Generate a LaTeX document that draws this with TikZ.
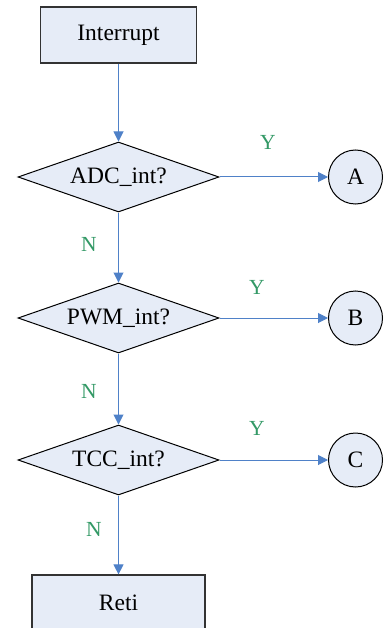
\documentclass[tikz,border=0pt]{standalone}
\usepackage{fontspec}
\setmainfont{Liberation Serif}
\usetikzlibrary{shapes.geometric,arrows.meta}
\definecolor{boxfill}{RGB}{230,236,247}
\definecolor{flowblue}{RGB}{79,129,200}
\definecolor{labelgreen}{RGB}{51,153,102}
\tikzset{
  procbox/.style={draw=black!80, line width=1.2pt, fill=boxfill, inner sep=0pt,
    font=\fontsize{23.5}{26}\selectfont},
  decision/.style={diamond, draw=black, line width=1pt, fill=boxfill, inner sep=0pt,
    aspect=2.87, minimum width=201pt, minimum height=70pt,
    font=\fontsize{23.5}{26}\selectfont},
  connector/.style={circle, draw=black, line width=1pt, fill=boxfill, inner sep=0pt,
    minimum size=54pt, font=\fontsize{23.5}{26}\selectfont},
  flow/.style={draw=flowblue, line width=1pt, -{Triangle[length=10pt,width=10pt]}},
  answer/.style={text=labelgreen, font=\fontsize{21.5}{24}\selectfont},
}
\begin{document}
\begin{tikzpicture}[x=1pt,y=-1pt]
\useasboundingbox (0,0) rectangle (390,628);
\clip (0,0) rectangle (390,628);

% process boxes
\node[procbox, minimum width=156pt, minimum height=56pt] (start) at (118.5,35) {Interrupt};
\node[procbox, minimum width=173pt, minimum height=56pt] (reti) at (118.5,603) {Reti};

% decisions
\node[decision] (adc) at (118.5,177) {ADC\_int?};
\node[decision] (pwm) at (118.5,318) {PWM\_int?};
\node[decision] (tcc) at (118.5,460) {TCC\_int?};

% off-page connectors
\node[connector] (ca) at (355.5,177) {A};
\node[connector] (cb) at (355.5,318) {B};
\node[connector] (cc) at (355.5,460) {C};

% flow lines
\draw[flow] (start.south) -- (adc.north);
\draw[flow] (adc.south) -- (pwm.north);
\draw[flow] (pwm.south) -- (tcc.north);
\draw[flow] (tcc.south) -- (reti.north);
\draw[flow] (adc.east) -- (ca.west);
\draw[flow] (pwm.east) -- (cb.west);
\draw[flow] (tcc.east) -- (cc.west);

% branch labels
\node[answer] (y1) at (268,142) {Y};
\node[answer] (y2) at (257,287) {Y};
\node[answer] (y3) at (257,428) {Y};
\node[answer] (n1) at (89,244) {N};
\node[answer] (n2) at (89,391) {N};
\node[answer] (n3) at (94,529) {N};
\end{tikzpicture}
\end{document}
